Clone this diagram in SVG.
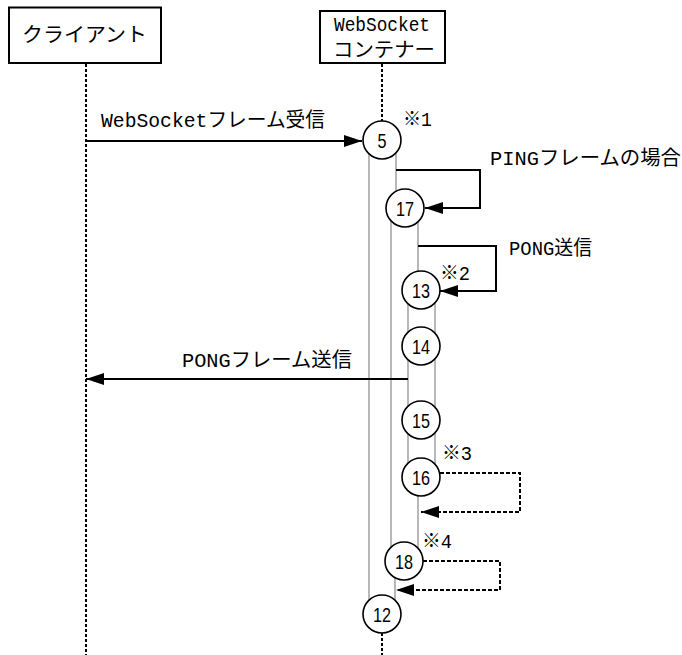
<svg xmlns="http://www.w3.org/2000/svg" width="682" height="655" viewBox="0 0 682 655">
<defs>
<style>
.lbl{font-family:"Liberation Mono","Noto Sans CJK JP",monospace;font-size:20px;fill:#000}
.num{font-family:"Liberation Sans","Noto Sans",sans-serif;font-size:21px;fill:#000;text-anchor:middle}
.box{fill:#fff;stroke:#000;stroke-width:2}
.life{stroke:#000;stroke-width:2;stroke-dasharray:3 2;fill:none}
.bar{stroke:#888;stroke-width:1.2;fill:none}
.msg{stroke:#000;stroke-width:2;fill:none}
.ret{stroke:#000;stroke-width:2;fill:none;stroke-dasharray:4 2}
.node circle{fill:#fff;stroke:#000;stroke-width:1.6}
</style>
<marker id="ah" markerWidth="18" markerHeight="12" refX="18" refY="6" orient="auto" markerUnits="userSpaceOnUse">
<path d="M0,0 L18,6 L0,12 Z" fill="#000"/>
</marker>
</defs>
<rect width="682" height="655" fill="#fff"/>

<g id="client">
<rect class="box" x="9" y="7.5" width="152" height="55.5"/>
<text class="lbl" x="22" y="42" textLength="125" lengthAdjust="spacingAndGlyphs">クライアント</text>
<line class="life" x1="86" y1="64" x2="86" y2="655"/>
</g>

<g id="container">
<rect class="box" x="320" y="11" width="125" height="52"/>
<text class="lbl" x="334" y="31" textLength="96" lengthAdjust="spacingAndGlyphs">WebSocket</text>
<text class="lbl" x="333" y="57" textLength="102" lengthAdjust="spacingAndGlyphs">コンテナー</text>
<line class="life" x1="382" y1="64" x2="382" y2="121"/>
<line class="life" x1="382" y1="633" x2="382" y2="655"/>
</g>

<g id="activations">
<line class="bar" x1="369" y1="140" x2="369" y2="614"/>
<line class="bar" x1="396" y1="140" x2="396" y2="208"/>
<line class="bar" x1="391" y1="208" x2="391" y2="561"/>
<line class="bar" x1="395" y1="561" x2="395" y2="614"/>
<line class="bar" x1="418" y1="208" x2="418" y2="290"/>
<line class="bar" x1="408" y1="290" x2="408" y2="477"/>
<line class="bar" x1="435" y1="290" x2="435" y2="477"/>
<line class="bar" x1="418" y1="477" x2="418" y2="561"/>
</g>

<g id="connectors">
<line class="msg" x1="86" y1="141" x2="362" y2="141" marker-end="url(#ah)"/>
<path class="msg" d="M396,170 H480 V208 H425" marker-end="url(#ah)"/>
<path class="msg" d="M418,246 H496 V291 H440" marker-end="url(#ah)"/>
<line class="msg" x1="408" y1="379" x2="86" y2="379" marker-end="url(#ah)"/>
<path class="ret" d="M440,473 H520 V512 H421" marker-end="url(#ah)"/>
<path class="ret" d="M423,561 H500 V590 H396" marker-end="url(#ah)"/>
</g>

<g id="labels">
<text class="lbl" x="101" y="127" textLength="224" lengthAdjust="spacingAndGlyphs">WebSocketフレーム受信</text>
<text class="lbl" x="490" y="165" textLength="191" lengthAdjust="spacingAndGlyphs">PINGフレームの場合</text>
<text class="lbl" x="509" y="255" textLength="83" lengthAdjust="spacingAndGlyphs">PONG送信</text>
<text class="lbl" x="182" y="367" textLength="170" lengthAdjust="spacingAndGlyphs">PONGフレーム送信</text>
<text class="lbl" x="403" y="126" textLength="29" lengthAdjust="spacingAndGlyphs">※1</text>
<text class="lbl" x="440" y="280" textLength="30" lengthAdjust="spacingAndGlyphs">※2</text>
<text class="lbl" x="442" y="460" textLength="30" lengthAdjust="spacingAndGlyphs">※3</text>
<text class="lbl" x="422" y="548" textLength="30" lengthAdjust="spacingAndGlyphs">※4</text>
</g>

<g id="n5" class="node"><circle cx="382" cy="140" r="19"/><text class="num" x="382" y="147.5" textLength="9" lengthAdjust="spacingAndGlyphs">5</text></g>
<g id="n17" class="node"><circle cx="405" cy="208" r="19"/><text class="num" x="405" y="215.5" textLength="18" lengthAdjust="spacingAndGlyphs">17</text></g>
<g id="n13" class="node"><circle cx="421" cy="290" r="19"/><text class="num" x="421" y="297.5" textLength="18" lengthAdjust="spacingAndGlyphs">13</text></g>
<g id="n14" class="node"><circle cx="421" cy="346" r="19"/><text class="num" x="421" y="353.5" textLength="18" lengthAdjust="spacingAndGlyphs">14</text></g>
<g id="n15" class="node"><circle cx="421" cy="420" r="19"/><text class="num" x="421" y="427.5" textLength="18" lengthAdjust="spacingAndGlyphs">15</text></g>
<g id="n16" class="node"><circle cx="421" cy="477" r="19"/><text class="num" x="421" y="484.5" textLength="18" lengthAdjust="spacingAndGlyphs">16</text></g>
<g id="n18" class="node"><circle cx="404" cy="561" r="19"/><text class="num" x="404" y="568.5" textLength="18" lengthAdjust="spacingAndGlyphs">18</text></g>
<g id="n12" class="node"><circle cx="382" cy="614" r="19"/><text class="num" x="382" y="621.5" textLength="18" lengthAdjust="spacingAndGlyphs">12</text></g>
</svg>
